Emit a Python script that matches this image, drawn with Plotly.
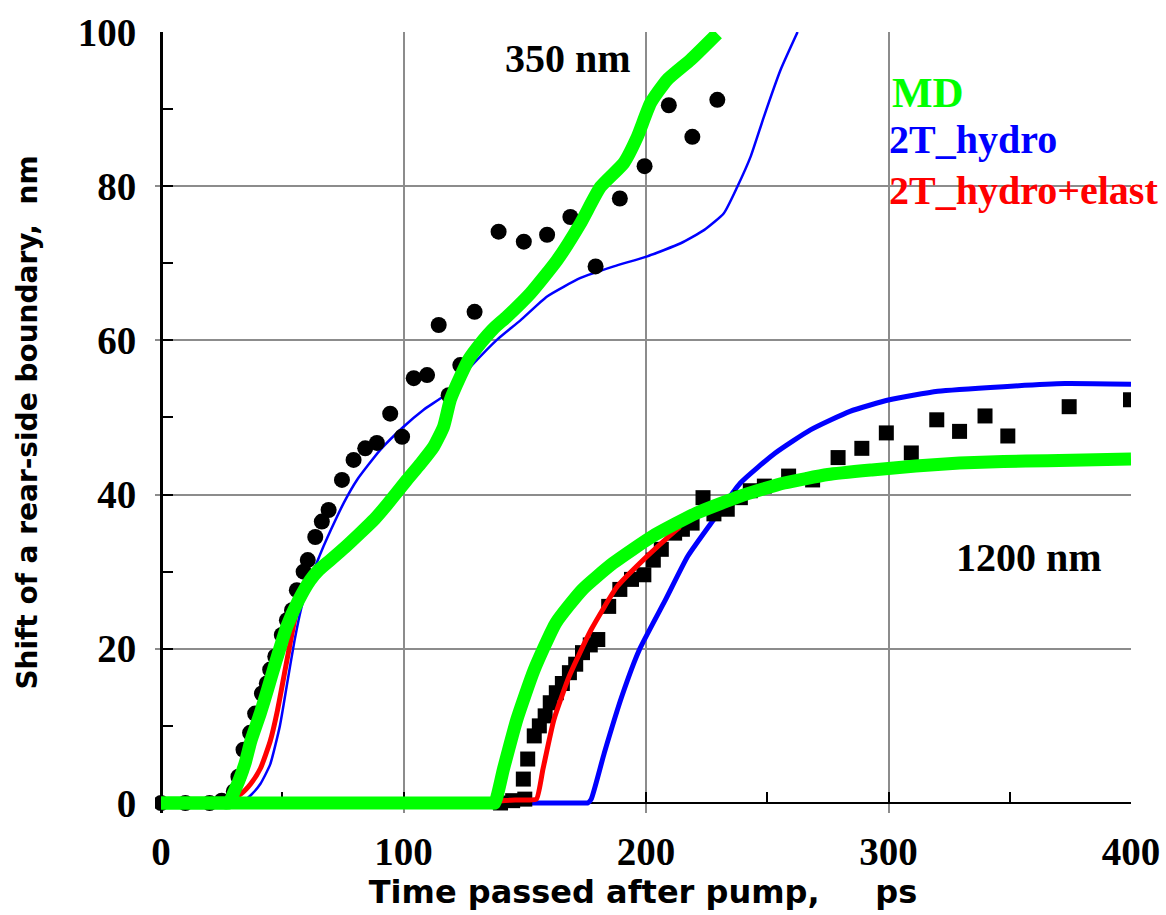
import plotly.graph_objects as go

# ---- measured boundary shift, 350 nm film (circles) ----
exp350_t = [0, 10, 20, 25, 30, 31.9, 34.0, 36.7, 38.8, 41.6, 43.6, 45.0, 47.1, 49.8, 51.9,
            54.0, 56.0, 58.8, 60.5, 63.6, 66.3, 69.1, 74.6, 79.4, 84.2, 89.0, 94.5, 99.4,
            104.2, 109.7, 114.5, 118.6, 123.4, 129.3, 139.2, 149.6, 159.2, 168.8, 179.2,
            189.2, 199.4, 209.4, 219.1, 229.4]
exp350_s = [0, 0, 0, 0.3, 1.5, 3.4, 6.9, 9.1, 11.6, 14.2, 15.5, 17.3, 19.0, 21.8, 23.7,
            25.0, 27.6, 30.0, 31.5, 34.5, 36.5, 38.0, 41.9, 44.5, 46.0, 46.7, 50.5, 47.5,
            55.1, 55.5, 62.0, 52.9, 56.8, 63.7, 74.1, 72.8, 73.7, 76.0, 69.6,
            78.4, 82.6, 90.5, 86.4, 91.2]

# ---- measured boundary shift, 1200 nm film (squares) ----
exp1200_t = [140, 145, 150, 149.4, 151.2, 153.9, 156.0, 158.4, 160.5, 163.0, 165.5, 168.4,
             171.0, 173.8, 177.0, 180.1, 184.6, 189.2, 194.0, 199.1, 203.0, 206.3, 211.8,
             215.0, 219.0, 223.5, 228.0, 233.5, 238.9, 243.0, 248.8, 258.8, 268.7, 279.2,
             289.0, 299.1, 309.4, 319.9, 329.3, 339.8, 349.2, 374.5, 399.8]
exp1200_s = [0, 0.3, 0.5, 3.1, 5.7, 8.7, 10.0, 11.3, 13.0, 14.3, 15.5, 16.9,
             18.0, 19.5, 20.5, 21.2, 25.5, 27.7, 29.0, 29.6, 31.5, 32.9, 35.0,
             35.5, 36.3, 39.6, 37.5, 38.1, 39.6, 40.5, 41.1, 42.4, 41.9, 44.8,
             46.0, 48.0, 45.4, 49.7, 48.2, 50.2, 47.6, 51.4, 52.3]

# ---- MD simulation ----
md350_t = [0, 10, 20, 25, 28, 29.9, 32, 34.7, 37, 40.9, 44, 47.1, 51.9, 56.7, 61.5, 65, 69.8,
           76, 82.1, 88, 93.2, 101.4, 107, 112.4, 116.5, 119.3, 123.4, 127, 131.7, 137, 142.7,
           152.3, 163.3, 173.0, 181.2, 190.8, 196.4, 201.9, 208.7, 218.4, 229.4]
md350_s = [0, 0, 0, 0, 0, 1.3, 2.8, 5.2, 8, 11.6, 14.8, 18.1, 22.9, 26.3, 28.9, 30.2, 31.5,
           33.2, 35.0, 36.8, 38.7, 41.9, 44, 46.2, 48.8, 52.3, 55.3, 57.6, 59.6, 61.5, 63.1,
           66.1, 70.4, 75.2, 79.9, 83.0, 86.4, 90.8, 93.8, 96.4, 99.8]
md1200_t = [0, 40, 80, 120, 132, 136, 137.6, 141.2, 146.7, 153.9, 162.9, 173.8, 186.4, 202.7,
            220.8, 238.9, 257, 275, 293.1, 311.2, 329.3, 347.4, 365.5, 400]
md1200_s = [0, 0, 0, 0, 0, 0, 0, 4.4, 10.8, 17.3, 23.4, 27.7, 31.1, 34.6,
            37.6, 39.8, 41.5, 42.6, 43.2, 43.7, 44.1, 44.3, 44.4, 44.6]

# ---- two-temperature hydrodynamics ----
hydro350_t = [0, 10, 20, 28, 31, 33, 37, 41, 45, 49, 52, 55, 58, 61, 64, 67, 70, 75.3, 80.8,
              90.4, 100, 108.3, 117.9, 128.9, 138.6, 148.2, 159.2, 173, 186.7, 200.5, 214.3,
              223.9, 232.1, 237.6, 243.1, 248.6, 255.5, 262.5]
hydro350_s = [0, 0, 0, 0, 0, 0, 1, 2.5, 5, 10, 15.5, 21, 25.5, 28.5, 31, 33.3, 35.4, 38.9, 41.9,
              45.8, 48.8, 51.0, 53.1, 57.0, 60.1, 62.6, 65.7, 68.1, 69.6, 70.9, 72.6,
              74.3, 76.5, 79.9, 83.8, 89.0, 95.1, 100]
hydro1200_t = [0, 40, 80, 120, 160, 170, 174, 176, 177.4, 182.8, 190.1, 197.3, 208.1, 217.2,
               228, 238.9, 253.3, 267.8, 284.1, 300.4, 320.3, 347.4, 372.7, 400]
hydro1200_s = [0, 0, 0, 0, 0, 0, 0, 0, 0.5, 6.5, 13.9, 19.9, 26.4, 32.0,
               36.8, 41.5, 45.4, 48.4, 50.8, 52.3, 53.4, 54.0, 54.4, 54.3]

# ---- two-temperature hydrodynamics with elasticity ----
elast350_t = [0, 10, 18, 22, 28, 33, 37, 41, 45, 48, 51, 54, 57, 60]
elast350_s = [0, 0, 0, 0, 0.4, 1.2, 2.5, 4.5, 8, 12, 17, 22, 26.5, 29.0]
elast1200_t = [0, 40, 80, 120, 140, 146, 151, 154.8, 157.5, 162, 168.4, 177.4, 188.2,
               199.1, 208.1, 214]
elast1200_s = [0, 0, 0, 0, 0.3, 0.4, 0.4, 0.5, 4.4, 10.8, 16.5, 22.5, 28.1,
               31.6, 34.2, 35.8]

x_ticks = [0, 100, 200, 300, 400]
y_ticks = [0, 20, 40, 60, 80, 100]

GREEN = "#00ff00"
BLUE = "#0000ff"
RED = "#ff0000"
SERIF = "Liberation Serif, Times New Roman, serif"
SANS = "DejaVu Sans, Verdana, sans-serif"


def curve(t, s, color, width):
    return go.Scatter(x=t, y=s, mode="lines",
                      line=dict(color=color, width=width, shape="spline", smoothing=0.5))


fig = go.Figure()
fig.add_trace(curve(hydro1200_t, hydro1200_s, BLUE, 5))
fig.add_trace(curve(hydro350_t, hydro350_s, BLUE, 2.5))
fig.add_trace(go.Scatter(x=exp350_t, y=exp350_s, mode="markers",
                         marker=dict(symbol="circle", size=16, color="black")))
fig.add_trace(go.Scatter(x=exp1200_t, y=exp1200_s, mode="markers",
                         marker=dict(symbol="square", size=15, color="black")))
fig.add_trace(curve(elast1200_t, elast1200_s, RED, 5))
fig.add_trace(curve(elast350_t, elast350_s, RED, 5))
fig.add_trace(curve(md1200_t, md1200_s, GREEN, 13))
fig.add_trace(curve(md350_t, md350_s, GREEN, 13))

# small margin below 0 / left of 0 so the thick baseline is not cut;
# the axes themselves sit at 0
X0, Y0 = -2.5, -1.3

axis_common = dict(
    showgrid=True, gridcolor="#8c8c8c", gridwidth=1.5,
    showline=True, linecolor="black", mirror=True,
    ticks="inside", ticklen=10, tickwidth=1.5, tickcolor="black",
    zeroline=False, layer="below traces", automargin=False,
    tickfont=dict(family=SERIF, size=39, color="black", weight="bold"),
)

fig.update_layout(
    template="none",
    width=1166, height=915,
    margin=dict(l=155, r=35, t=32, b=102),
    paper_bgcolor="white", plot_bgcolor="white",
    showlegend=False,
    xaxis=dict(
        range=[X0, 400], tickvals=x_ticks, linewidth=2,
        anchor="free", position=-Y0 / (100 - Y0),
        minor=dict(dtick=50, tick0=0, ticks="inside", ticklen=10, tickwidth=1.5,
                   tickcolor="black", showgrid=False),
        ticklabelstandoff=14,
        title=dict(text="Time passed after pump,\u00a0\u00a0\u00a0\u00a0 ps",
                   font=dict(family=SANS, size=32, color="black", weight="bold"),
                   standoff=5),
        **axis_common,
    ),
    yaxis=dict(
        range=[Y0, 100], tickvals=y_ticks, linewidth=3,
        anchor="free", position=-X0 / (400 - X0),
        minor=dict(dtick=10, tick0=0, ticks="inside", ticklen=10, tickwidth=1.5,
                   tickcolor="black", showgrid=False),
        ticklabelstandoff=16,
        title=dict(text="Shift of a rear-side boundary,\u00a0\u00a0nm",
                   font=dict(family=SANS, size=28, color="black", weight="bold"),
                   standoff=30),
        **axis_common,
    ),
)

annotations = [
    dict(text="350 nm", x=168, y=96.5, size=40, color="black", anchor="center"),
    dict(text="1200 nm", x=357.9, y=31.8, size=40, color="black", anchor="center"),
    dict(text="MD", x=300.5, y=92.1, size=43, color=GREEN, anchor="left"),
    dict(text="2T_hydro", x=299.5, y=86.0, size=40, color=BLUE, anchor="left"),
    dict(text="2T_hydro+elast", x=299.5, y=79.5, size=40, color=RED, anchor="left"),
]
for a in annotations:
    fig.add_annotation(
        x=a["x"], y=a["y"], xref="x", yref="y", text=a["text"], showarrow=False,
        xanchor=a["anchor"], yanchor="middle",
        font=dict(family=SERIF, size=a["size"], color=a["color"], weight="bold"),
    )

fig.write_html("out.html")
